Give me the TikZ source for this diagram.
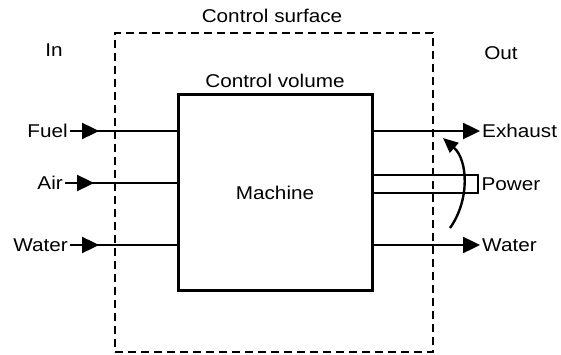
\documentclass[tikz,border=0pt]{standalone}
\usepackage{fontspec}
\setmainfont{Liberation Sans}[FakeStretch=1.12]
\usepackage{tikz}
\usetikzlibrary{arrows.meta,calc,positioning}

\begin{document}
\begin{tikzpicture}[
  x=1pt,y=-1pt,
  font=\fontsize{18.5}{21}\selectfont,
  lbl/.style={inner sep=2pt},
  surface/.style={draw,line width=2.8pt,dash pattern=on 8pt off 5pt,minimum width=318pt,minimum height=319pt},
  machine/.style={draw,line width=3pt,minimum width=194pt,minimum height=195pt},
  shaft/.style={draw,line width=2.4pt,minimum width=105pt,minimum height=18pt,inner sep=0pt},
  pipe/.style={line width=2.4pt},
  flow/.style={line width=2.4pt,-{Triangle[length=17pt,width=16pt]}}
]
  \useasboundingbox (0,0) rectangle (561,355);
  \node[surface] (cs) at (274,192.5) {};
  \node[machine] (mach) at (275,192.5) {Machine};
  \node[lbl,above=4pt of mach] (cv) {Control volume};
  \node[lbl] (cst) at (272,16) {Control surface};
  \node[lbl] (in) at (54,50) {In};
  \node[lbl] (out) at (501,53) {Out};

  % inputs
  \node[lbl,anchor=east] (fuel) at (70,131) {Fuel};
  \node[lbl,anchor=east] (air) at (65,183) {Air};
  \node[lbl,anchor=east] (wati) at (70,245) {Water};
  \foreach \n in {fuel,air,wati}{
    \draw[pipe] (\n.east) -- (mach.west |- \n.east);
    \draw[flow] (\n.east) -- ++(29,0);
  }

  % outputs
  \node[lbl,anchor=west] (exh) at (480,131) {Exhaust};
  \node[lbl,anchor=west] (watp) at (480,245) {Water};
  \draw[flow] (mach.east |- exh.west) -- (exh.west);
  \draw[flow] (mach.east |- watp.west) -- (watp.west);
  \node[shaft,anchor=west] (sh) at (372,184) {};
  \node[lbl,anchor=west] (pow) at (sh.east) {Power};

  % rotation
  \coordinate (rs) at (450,228);
  \coordinate (re) at (443,138);
  \draw[line width=2.4pt,-{Triangle[length=15pt,width=13pt]}] (rs) .. controls (470,200) and (468,160) .. (re);
\end{tikzpicture}
\end{document}
